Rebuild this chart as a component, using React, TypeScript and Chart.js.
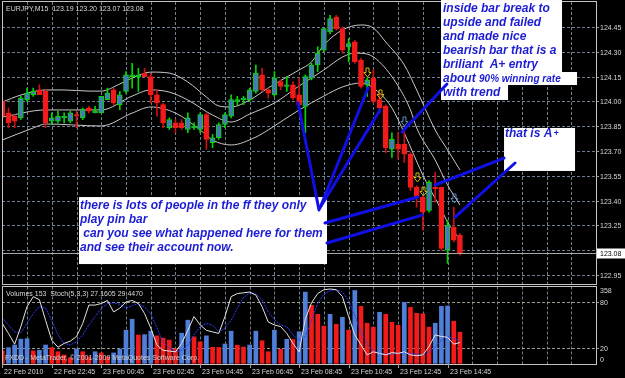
import React, { useEffect, useRef } from 'react';
import { Chart, registerables } from 'chart.js';

Chart.register(...registerables);

// ---------------- DATA ----------------
const opens = [124.00,123.93,123.91,123.90,124.01,124.04,124.07,124.06,123.88,123.88,
 123.90,123.88,123.92,123.90,123.96,123.93,123.93,124.01,124.07,123.98,
 124.06,124.15,124.15,124.17,124.15,124.04,123.98,123.84,123.87,123.87,
 123.83,123.84,123.83,123.92,123.75,123.78,123.86,123.91,124.00,124.01,
 124.01,124.06,124.16,124.07,124.04,124.12,124.09,124.10,124.04,123.97,
 124.14,124.22,124.31,124.42,124.51,124.44,124.33,124.36,124.25,124.10,
 124.14,124.01,123.97,123.71,123.74,123.74,123.68,123.48,123.42,123.34,
 123.48,123.48,123.10,123.24,123.19];
const highs = [124.02,123.96,123.92,124.03,124.08,124.08,124.10,124.07,123.93,123.94,
 123.93,123.94,123.94,123.96,123.97,123.97,124.03,124.08,124.08,124.06,
 124.18,124.23,124.20,124.20,124.17,124.07,123.99,123.90,123.89,123.89,
 123.93,123.87,123.93,123.93,123.80,123.87,123.93,124.04,124.03,124.03,
 124.08,124.22,124.20,124.08,124.18,124.13,124.15,124.12,124.14,124.16,
 124.23,124.33,124.44,124.52,124.52,124.45,124.38,124.37,124.26,124.14,
 124.19,124.05,123.98,123.81,123.81,123.83,123.69,123.49,123.43,123.52,
 123.57,123.48,123.28,123.36,123.20];
const lows = [123.89,123.84,123.84,123.89,124.00,124.03,124.04,123.84,123.86,123.87,
 123.87,123.87,123.84,123.89,123.93,123.93,123.93,124.01,123.98,123.95,
 124.05,124.08,124.06,124.15,123.99,123.91,123.84,123.83,123.81,123.83,
 123.81,123.83,123.81,123.71,123.72,123.77,123.84,123.90,123.98,123.98,
 124.00,124.05,124.06,124.02,124.03,124.07,124.06,124.01,123.98,123.81,
 124.13,124.18,124.30,124.41,124.43,124.29,124.24,124.23,124.08,124.03,
 123.99,123.93,123.69,123.66,123.65,123.63,123.46,123.36,123.22,123.33,
 123.39,123.10,123.02,123.15,123.07];
const closes = [123.91,123.87,123.88,124.02,124.05,124.06,124.04,123.87,123.90,123.91,
 123.91,123.93,123.91,123.95,123.94,123.94,124.03,124.05,123.99,124.04,
 124.16,124.16,124.16,124.15,124.04,123.99,123.87,123.89,123.84,123.84,
 123.90,123.85,123.92,123.77,123.78,123.86,123.92,124.01,124.01,124.02,
 124.07,124.17,124.07,124.05,124.14,124.09,124.10,124.02,123.98,124.15,
 124.22,124.29,124.44,124.50,124.44,124.31,124.35,124.24,124.09,124.13,
 124.00,123.96,123.72,123.77,123.71,123.68,123.48,123.42,123.33,123.51,
 123.47,123.11,123.25,123.16,123.08];

const volumes = [62,77,90,119,121,61,64,90,77,57,
 41,27,71,57,32,57,51,32,51,71,
 163,217,139,141,158,135,124,114,71,148,
 212,130,106,135,79,78,95,158,89,80,
 90,158,111,57,163,69,118,117,155,350,
 285,241,183,241,192,226,163,358,280,197,
 178,251,241,202,187,300,275,246,243,178,
 197,280,282,207,153];

const stochMain = [52,39,25,48,74,87,83,56,30,21,
 26,29,35,52,76,76,78,82,67,72,
 80,82,78,65,46,24,17,16,15,26,
 43,61,50,43,41,39,61,87,91,92,
 93,89,74,54,50,48,39,26,15,58,
 79,91,96,97,96,87,61,37,24,11,
 15,13,11,14,13,15,11,10,11,22,
 37,35,34,25,27.1605];
const stochSignal = [59,50,41,40,52,65,74,72,56,37,
 26,24,28,37,50,61,72,78,79,77,
 72,75,78,73,65,46,28,20,15,17,
 24,37,48,52,50,41,46,56,72,86,
 92,91,83,67,57,50,48,37,30,35,
 56,78,90,95,96,93,82,62,42,25,
 16,13,12,12,13,14,13,12,11,15,
 22,30,35,32,29.447];

// envelope / band lines, read at these bar indices
const upperBars = [0,3,7,10,14,16,19,21,24,27,30,33,35,37,40,43,46,48,50,52,55,58,60,62,65,67,70,72,74];
const upperVals = [123.996,124.038,124.069,124.069,124.062,124.062,124.105,124.141,124.177,124.171,124.117,124.026,123.972,123.966,124.008,124.081,124.147,124.19,124.238,124.341,124.432,124.462,124.444,124.359,124.22,124.069,123.827,123.706,123.585];
const middleBars = [0,7,16,21,24,27,30,34,37,40,44,48,52,55,57,59,61,64,66,67,70,72,74];
const middleVals = [123.905,123.948,123.948,124.032,124.069,124.056,124.008,123.917,123.875,123.923,123.99,124.093,124.19,124.268,124.292,124.286,124.238,124.093,123.948,123.839,123.645,123.494,123.373];
const lowerBars = [0,5,7,16,21,24,28,32,34,37,41,43,48,52,55,58,61,63,65,68,71,72,74];
const lowerVals = [123.766,123.839,123.863,123.851,123.929,123.966,123.929,123.827,123.766,123.736,123.784,123.827,123.948,124.032,124.087,124.111,124.050,123.960,123.808,123.554,123.343,123.270,123.161];

const priceTicks = [124.45,124.30,124.15,124.00,123.85,123.70,123.55,123.40,123.25,123.10,122.95];
const timeLabelBars = [0,8,16,24,32,40,48,56,64,72];
const timeLabels = ['22 Feb 2010','22 Feb 22:45','23 Feb 00:45','23 Feb 02:45','23 Feb 04:45','23 Feb 06:45','23 Feb 08:45','23 Feb 10:45','23 Feb 12:45','23 Feb 14:45'];
const stochLevels = [80, 20];
const bidPrice = 123.08;
const volMaxLabel = 358;

const arrowBars = [59, 61, 67, 68, 65, 73];
const arrowPrices = [124.178, 124.044, 123.542, 123.457, 123.881, 123.415];
const arrowKinds = ['y','y','y','y','b','b'];

// annotation trend lines (bar index, price)
const trendFromBar = [47.82, 59.14, 61.08, 52.18, 52.50, 81.13, 82.91, 71.90];
const trendFromPrice = [123.990, 124.081, 123.948, 123.264, 123.143, 123.657, 123.627, 124.105];
const trendToBar = [51.21, 51.37, 51.54, 67.22, 67.87, 69.97, 73.20, 64.63];
const trendToPrice = [123.343, 123.355, 123.367, 123.421, 123.312, 123.494, 123.300, 123.814];

const note1Lines = ['inside bar break to','upside and failed','and made nice','bearish bar that is a','briliant  A+ entry','about ','with trend'];
const note1Small = '90% winning rate';
const note2Lines = ['there is lots of people in the ff they only','play pin bar',' can you see what happened here for them','and see their account now.'];
const note3Text = 'that is A';

// ---------------- STYLE ----------------
const FONT = '"Liberation Sans", Arial, sans-serif';
const GRID = '#6f7f8f';
const FRAME = '#c4c4c4';
const TXT = '#d8d8d8';
const BULL_FILL = '#4a78c0';
const BULL_EDGE = '#00d800';
const BEAR = '#f21a1a';
const BEAR_WICK = '#d01010';
const NOTE_BLUE = '#1c1cd4';
const LINE_BLUE = '#1010e6';
const MAIN_BOTTOM = 284.5;
const IND_TOP = 286.5;

function txt(ctx: CanvasRenderingContext2D, s: string, x: number, y: number, color = TXT, size = 8, sx = 0.875, align: CanvasTextAlign = 'left') {
  ctx.save();
  ctx.translate(x, y);
  ctx.scale(sx, 1);
  ctx.font = `${size}px ${FONT}`;
  ctx.fillStyle = color;
  ctx.textAlign = align;
  ctx.textBaseline = 'middle';
  ctx.fillText(s, 0, 0);
  ctx.restore();
}

function seg(ctx: CanvasRenderingContext2D, x1: number, y1: number, x2: number, y2: number) {
  ctx.beginPath();
  ctx.moveTo(x1, y1);
  ctx.lineTo(x2, y2);
  ctx.stroke();
}

const mt4Plugin = {
  id: 'mt4',
  beforeDatasetsDraw(chart: any) {
    const { ctx, chartArea, scales } = chart;
    const L = chartArea.left, R = chartArea.right, T = chartArea.top, B = chartArea.bottom;
    ctx.save();
    ctx.lineWidth = 1;
    ctx.strokeStyle = GRID;
    ctx.setLineDash([3, 2]);
    for (const p of priceTicks) {
      const py = Math.round(scales.y.getPixelForValue(p)) + 0.5;
      seg(ctx, L, py, R, py);
    }
    for (let b = 4; b < 96; b += 4) {
      const px = Math.round(scales.x.getPixelForValue(b)) + 0.5;
      seg(ctx, px, T, px, MAIN_BOTTOM);
      seg(ctx, px, IND_TOP, px, B);
    }
    ctx.strokeStyle = '#9a9a8a';
    for (const v of stochLevels) {
      const py = Math.round(scales.ys.getPixelForValue(v)) + 0.5;
      seg(ctx, L, py, R, py);
    }
    ctx.restore();
  },
  afterDatasetsDraw(chart: any) {
    const { ctx, chartArea, scales } = chart;
    const L = chartArea.left, R = chartArea.right, T = chartArea.top, B = chartArea.bottom;
    const X = (b: number) => scales.x.getPixelForValue(b);
    const Y = (p: number) => scales.y.getPixelForValue(p);
    ctx.save();
    ctx.setLineDash([]);
    ctx.lineWidth = 1;

    // bid line
    const by = Math.round(Y(bidPrice)) + 0.5;
    ctx.strokeStyle = '#a8a8a8';
    seg(ctx, L, by, R, by);

    // arrows
    arrowBars.forEach((b, i) => {
      const cx = Math.round(X(b)) + 0.5, cy = Math.round(Y(arrowPrices[i])) + 0.5;
      ctx.strokeStyle = arrowKinds[i] === 'y' ? '#d8b800' : '#5a8cc8';
      ctx.beginPath();
      ctx.moveTo(cx - 1.5, cy - 4.5);
      ctx.lineTo(cx + 1.5, cy - 4.5);
      ctx.lineTo(cx + 1.5, cy);
      ctx.lineTo(cx + 3.5, cy);
      ctx.lineTo(cx, cy + 4.5);
      ctx.lineTo(cx - 3.5, cy);
      ctx.lineTo(cx - 1.5, cy);
      ctx.closePath();
      ctx.stroke();
    });

    // frames
    ctx.strokeStyle = FRAME;
    ctx.strokeRect(L + 0.5, T - 0.5, R - L, MAIN_BOTTOM - T + 0.5);
    ctx.strokeRect(L + 0.5, IND_TOP, R - L, B - IND_TOP + 0.5);

    // right axis labels
    ctx.strokeStyle = '#a0a0a0';
    for (const p of priceTicks) {
      const py = Math.round(Y(p)) + 0.5;
      seg(ctx, R, py, R + 3, py);
      if (Math.abs(p - 123.10) > 0.001) txt(ctx, p.toFixed(2), R + 4, py);
    }
    // bid label
    ctx.fillStyle = '#ffffff';
    ctx.fillRect(R + 1, by - 5, 625 - R - 1, 10);
    txt(ctx, bidPrice.toFixed(2), R + 4, by, '#000000');

    // indicator labels
    const yv = scales.yv, ys = scales.ys;
    txt(ctx, String(volMaxLabel), R + 4, yv.getPixelForValue(volMaxLabel));
    for (const v of stochLevels) {
      const py = Math.round(ys.getPixelForValue(v)) + 0.5;
      seg(ctx, R, py, R + 3, py);
      txt(ctx, String(v), R + 4, py);
    }
    txt(ctx, '0', R + 4, Math.min(ys.getPixelForValue(0), B - 4));

    // time axis
    timeLabelBars.forEach((b, i) => {
      const px = Math.round(X(b)) + 0.5;
      seg(ctx, px, B, px, B + 4);
      txt(ctx, timeLabels[i], px + 1.5, B + 7.5);
    });

    // headers
    txt(ctx, 'EURJPY,M15  123.19 123.20 123.07 123.08', 6, 8.5);
    txt(ctx, 'Volumes 153  Stoch(5,3,3) 27.1605 29.4470', 6, 293.5);
    txt(ctx, 'FXDD - MetaTrader, \u00a9 2001-2009 MetaQuotes Software Corp.', 5, 358, '#cfcfcf');

    // note boxes
    const n1x = X(70.94), n1y = Y(124.613);
    ctx.fillStyle = '#ffffff';
    ctx.fillRect(n1x, n1y, 121, 72);
    ctx.fillRect(n1x, n1y + 72, 136, 13);
    ctx.fillRect(n1x, n1y + 85, 67, 15);
    const n2x = X(12.40), n2y = Y(123.421);
    ctx.fillRect(n2x, n2y, 248, 67);
    const n3x = X(81.13), n3y = Y(123.839);
    ctx.fillRect(n3x, n3y, 71, 43);

    const bi = `italic bold 12px ${FONT}`;
    ctx.font = bi;
    ctx.fillStyle = NOTE_BLUE;
    ctx.textBaseline = 'middle';
    ctx.textAlign = 'left';
    note1Lines.forEach((s, i) => {
      ctx.font = bi;
      ctx.fillText(s, n1x + 2, n1y + 8.5 + i * 14);
      if (i === 5) {
        const w = ctx.measureText(s).width;
        ctx.font = `italic bold 10px ${FONT}`;
        ctx.fillText(note1Small, n1x + 2 + w, n1y + 9 + i * 14);
      }
    });
    ctx.font = bi;
    note2Lines.forEach((s, i) => ctx.fillText(s, n2x + 1, n2y + 8.5 + i * 14));
    ctx.fillText(note3Text, n3x + 1, n3y + 5.5);
    const w3 = ctx.measureText(note3Text).width;
    ctx.font = `italic bold 9px ${FONT}`;
    ctx.fillText('+', n3x + 2 + w3, n3y + 5.5);

    // trend lines
    ctx.strokeStyle = LINE_BLUE;
    ctx.lineWidth = 3;
    ctx.lineCap = 'round';
    trendFromBar.forEach((b, i) => {
      seg(ctx, X(b), Y(trendFromPrice[i]), X(trendToBar[i]), Y(trendToPrice[i]));
    });

    ctx.restore();
  },
};

export default function App() {
  const ref = useRef<HTMLCanvasElement>(null);
  useEffect(() => {
    document.body.style.margin = '0';
    document.body.style.background = '#000';
    const idx = opens.map((_, i) => i);
    const bull = idx.map((i) => closes[i] >= opens[i]);
    const volUp = idx.map((i) => i > 0 && volumes[i] > volumes[i - 1]);
    const chart = new Chart(ref.current as HTMLCanvasElement, {
      type: 'bar',
      data: {
        datasets: [
          {
            type: 'bar',
            label: 'bodies',
            data: idx.map((i) => ({ x: i, y: [opens[i], closes[i]] })) as any,
            backgroundColor: idx.map((i) => (bull[i] ? BULL_FILL : BEAR)),
            borderColor: idx.map((i) => (bull[i] ? BULL_EDGE : BEAR)),
            borderWidth: 1,
            borderSkipped: false,
            barThickness: 5,
            minBarLength: 1,
            grouped: false,
            yAxisID: 'y',
            order: 0,
          } as any,
          {
            type: 'bar',
            label: 'wicks',
            data: idx.map((i) => ({ x: i, y: [lows[i], highs[i]] })) as any,
            backgroundColor: idx.map((i) => (bull[i] ? BULL_EDGE : BEAR_WICK)),
            barThickness: 1,
            grouped: false,
            yAxisID: 'y',
            order: 1,
          } as any,
          {
            type: 'line',
            label: 'upper',
            data: upperBars.map((b, k) => ({ x: b, y: upperVals[k] })),
            borderColor: '#c8c8c8', borderWidth: 1, pointRadius: 0, cubicInterpolationMode: 'monotone',
            yAxisID: 'y', order: 2,
          } as any,
          {
            type: 'line',
            label: 'middle',
            data: middleBars.map((b, k) => ({ x: b, y: middleVals[k] })),
            borderColor: '#c8c8c8', borderWidth: 1, pointRadius: 0, cubicInterpolationMode: 'monotone',
            yAxisID: 'y', order: 2,
          } as any,
          {
            type: 'line',
            label: 'lower',
            data: lowerBars.map((b, k) => ({ x: b, y: lowerVals[k] })),
            borderColor: '#c8c8c8', borderWidth: 1, pointRadius: 0, cubicInterpolationMode: 'monotone',
            yAxisID: 'y', order: 2,
          } as any,
          {
            type: 'line',
            label: 'stoch',
            data: idx.map((i) => ({ x: i, y: stochMain[i] })),
            borderColor: '#e4e4e4', borderWidth: 1, pointRadius: 0, tension: 0,
            yAxisID: 'ys', order: 3,
          } as any,
          {
            type: 'line',
            label: 'signal',
            data: idx.map((i) => ({ x: i, y: stochSignal[i] })),
            borderColor: '#2a3cff', borderWidth: 1, borderDash: [2, 1], pointRadius: 0, tension: 0,
            yAxisID: 'ys', order: 4,
          } as any,
          {
            type: 'bar',
            label: 'volumes',
            data: idx.map((i) => ({ x: i, y: volumes[i] })),
            backgroundColor: idx.map((i) => (volUp[i] ? '#4f7fd8' : BEAR)),
            barThickness: 4,
            grouped: false,
            yAxisID: 'yv',
            order: 5,
          } as any,
        ],
      },
      options: {
        responsive: false,
        animation: false,
        devicePixelRatio: 1,
        layout: { padding: { left: 2, top: 2, right: 29, bottom: 14 } },
        plugins: { legend: { display: false }, tooltip: { enabled: false } },
        scales: {
          x: { type: 'linear', min: -0.05, max: 96, display: false, offset: false },
          y: { type: 'linear', min: 122.411, max: 124.601, display: false },
          ys: { type: 'linear', min: -0.87, max: 471.3, display: false },
          yv: { type: 'linear', min: -3.29, max: 1776, display: false },
        },
      } as any,
      plugins: [mt4Plugin],
    });
    return () => chart.destroy();
  }, []);
  return (
    <div style={{ position: 'absolute', left: 0, top: 0, width: 625, height: 378, background: '#000' }}>
      <canvas ref={ref} width={625} height={378} style={{ display: 'block', width: 625, height: 378 }} />
    </div>
  );
}
